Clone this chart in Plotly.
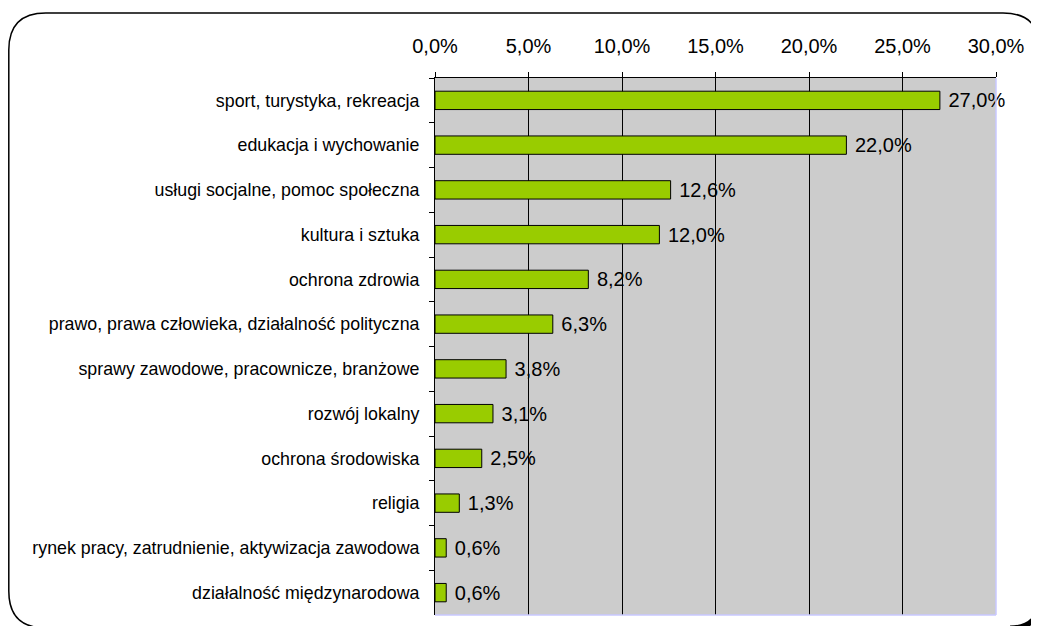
import plotly.graph_objects as go

categories = [
    "sport, turystyka, rekreacja",
    "edukacja i wychowanie",
    "usługi socjalne, pomoc społeczna",
    "kultura i sztuka",
    "ochrona zdrowia",
    "prawo, prawa człowieka, działalność polityczna",
    "sprawy zawodowe, pracownicze, branżowe",
    "rozwój lokalny",
    "ochrona środowiska",
    "religia",
    "rynek pracy, zatrudnienie, aktywizacja zawodowa",
    "działalność międzynarodowa",
]
values = [27.0, 22.0, 12.6, 12.0, 8.2, 6.3, 3.8, 3.1, 2.5, 1.3, 0.6, 0.6]
tick_vals = [0, 5, 10, 15, 20, 25, 30]
tick_text = ["0,0%", "5,0%", "10,0%", "15,0%", "20,0%", "25,0%", "30,0%"]

OFF = 8  # page body margin
W, H = 1039 - OFF, 626 - OFF
PL, PR, PT, PB = 435 - OFF, 996 - OFF, 78 - OFF, 615 - OFF

def px(x):
    return (x - OFF - PL) / (PR - PL)

def py(y):
    return (PB - (y - OFF)) / (PB - PT)

labels = [" " + f"{v:.1f}".replace(".", ",") + "%" for v in values]
FONT = "Arial, Liberation Sans, sans-serif"

fig = go.Figure(go.Bar(
    x=values, y=categories, orientation="h",
    marker=dict(color="#99CC00", line=dict(color="black", width=1)),
    width=0.41,
    text=labels, textposition="outside", constraintext="none",
    textfont=dict(family=FONT, size=20, color="black"),
    cliponaxis=False,
))

# rounded frame (page pixel coordinates)
x0, x1, y0, y1, r, rb = 8.8, 1040, 13, 628, 37, 30
path = (
    f"M {px(x0)},{py(y0 + r)} "
    f"Q {px(x0)},{py(y0)} {px(x0 + r)},{py(y0)} "
    f"L {px(x1 - r)},{py(y0)} "
    f"Q {px(x1)},{py(y0)} {px(x1)},{py(y0 + r)} "
    f"L {px(x1)},{py(y1 - rb)} "
    f"Q {px(x1)},{py(y1)} {px(x1 - rb)},{py(y1)} "
    f"L {px(x0 + r)},{py(y1)} "
    f"Q {px(x0)},{py(y1)} {px(x0)},{py(y1 - r)} Z"
)
corner = (
    f"M {px(x1)},{py(y1 - rb)} "
    f"Q {px(x1)},{py(y1)} {px(x1 - rb)},{py(y1)}"
)

shapes = [
    dict(type="path", xref="paper", yref="paper", path=path,
         line=dict(color="black", width=1.5), layer="below"),
    dict(type="path", xref="paper", yref="paper", path=corner,
         line=dict(color="black", width=5), layer="below"),
    dict(type="line", xref="paper", yref="paper", x0=1, x1=1, y0=0, y1=1,
         line=dict(color="#C8C8FF", width=1.5)),
    dict(type="line", xref="paper", yref="paper", x0=0, x1=1, y0=0, y1=0,
         line=dict(color="#C8C8FF", width=1.5)),
]

fig.update_layout(
    width=W, height=H,
    margin=dict(l=PL, r=W - PR, t=PT, b=H - PB, pad=0),
    paper_bgcolor="white",
    plot_bgcolor="#CCCCCC",
    showlegend=False,
    shapes=shapes,
    font=dict(family=FONT, color="black"),
)
fig.update_xaxes(
    side="top", range=[0, 30], tickvals=tick_vals, ticktext=tick_text,
    showgrid=True, gridcolor="black", gridwidth=1,
    showline=True, linecolor="black", linewidth=1,
    ticks="outside", ticklen=5, tickcolor="black",
    tickfont=dict(size=20, family=FONT, color="black"),
    ticklabelstandoff=11,
    zeroline=False, fixedrange=True,
)
fig.update_yaxes(
    autorange="reversed", showgrid=False,
    showline=True, linecolor="black", linewidth=1,
    ticks="outside", ticklen=5, tickcolor="black", tickson="boundaries",
    tickfont=dict(size=17.8, family=FONT, color="black"),
    ticklabelstandoff=11,
    fixedrange=True,
)

fig.write_html("out.html")
